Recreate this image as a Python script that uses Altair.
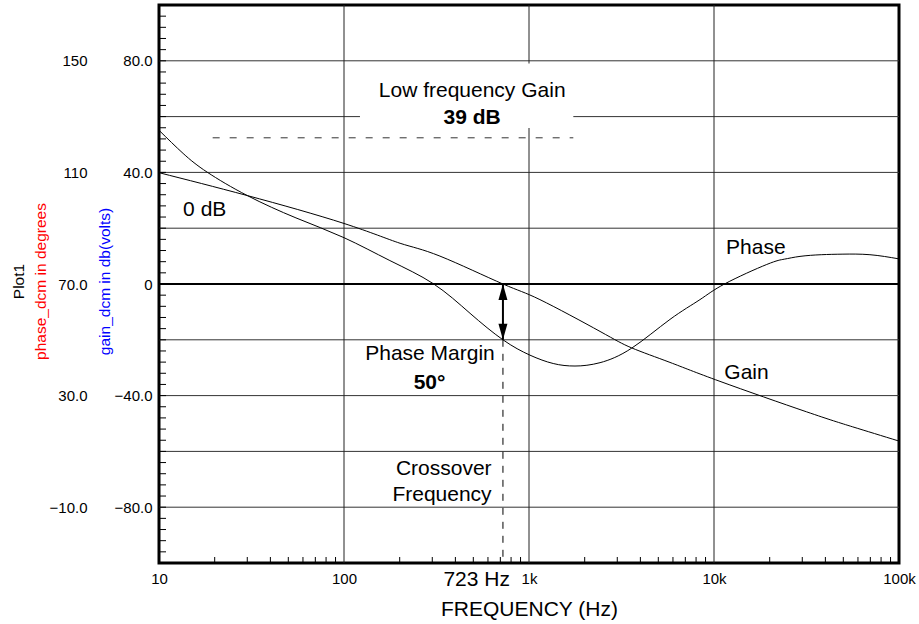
import altair as alt
import pandas as pd

FONT = "Liberation Sans"

# ---------------- data ----------------
gain_freq = [10, 30, 100, 201, 330, 723, 1146, 2421, 3589, 5780, 10775, 31600, 56200, 100000]
gain_db = [39.9, 31.7, 21.7, 14.6, 10.0, 0.0, -5.6, -17.0, -22.9, -28.1, -34.9, -45.8, -51.2,
           -56.3]

phase_freq = [10, 13.5, 18.2, 30, 55, 100, 177, 304, 480, 723, 1012, 1352, 1773, 2421, 3589,
              5780, 8397, 11468, 19280, 24000, 29170, 38000, 49770, 69660, 100000]
phase_deg = [125.1, 116.8, 110.1, 101.7, 93.7, 86.6, 78.4, 70.1, 59.5, 50.0, 44.5, 41.5, 40.6,
             41.8, 47.0, 57.3, 64.4, 70.1, 77.0, 78.9, 79.9, 80.5, 80.7, 80.5, 79.0]

x_tick_values = [10, 100, 1000, 10000, 100000]
x_tick_labels = ["10", "100", "1k", "10k", "100k"]
gain_tick_values = [-80, -40, 0, 40, 80]
gain_tick_labels = ["\u221280.0", "\u221240.0", "0", "40.0", "80.0"]
phase_tick_values = [-10, 30, 70, 110, 150]
phase_tick_labels = ["\u221210.0", "30.0", "70.0", "110", "150"]

gain_grid = [-80, -60, -40, -20, 20, 40, 60, 80]
freq_grid = [100, 1000, 10000]
gain_minor = [v for v in range(-96, 100, 4)]
freq_minor = [m * d for d in [10, 100, 1000, 10000] for m in range(2, 10)]

crossover_freq = 723
margin_bottom_gain = -20

lf_box = {"f1": [122], "f2": [1736], "g1": [79.0], "g2": [55.9]}
lf_dash = {"f1": [19.5], "f2": [1736], "g": [52.4]}

# annotation texts (freq, gain-axis value of baseline)
center_labels = ["Low frequency Gain", "Phase Margin"]
center_freq = [493, 291.7]
center_gain = [67.0, -27.3]
center_bold_labels = ["39 dB", "50\u00b0"]
center_bold_freq = [493, 290]
center_bold_gain = [57.5, -37.8]
left_labels = ["0 dB", "Phase", "Gain"]
left_freq = [13.5, 11614, 11367]
left_gain = [24.3, 10.9, -33.9]
right_labels = ["Crossover", "Frequency"]
right_freq = [628, 628]
right_gain = [-68.3, -77.8]
hz_label = ["723 Hz"]
hz_freq = [789]
hz_gain = [-108.2]

# ---------------- chart ----------------
W, H = 740, 558

xscale = alt.Scale(type="log", domain=[10, 100000], nice=False)
gscale = alt.Scale(domain=[-100, 100], nice=False, zero=False)
pscale = alt.Scale(domain=[-30, 170], nice=False, zero=False)


def label_expr(values, labels):
    expr = "''"
    for v, l in reversed(list(zip(values, labels))):
        expr = f"datum.value == {v} ? '{l}' : ({expr})"
    return expr


x_axis = alt.Axis(
    orient="bottom",
    values=x_tick_values, labelExpr=label_expr(x_tick_values, x_tick_labels),
    ticks=False, tickSize=0, domain=False, grid=False, labelFlush=False,
    labelPadding=8, labelFont=FONT, labelFontSize=15, labelColor="black",
    title="FREQUENCY (Hz)", titleFont=FONT, titleFontSize=21, titleFontWeight="normal",
    titleColor="black", titleX=W / 2, titleY=52, titleAlign="center",
    titleBaseline="alphabetic",
)

gain_axis = alt.Axis(
    values=gain_tick_values, labelExpr=label_expr(gain_tick_values, gain_tick_labels),
    ticks=False, tickSize=0, domain=False, grid=False, orient="left",
    labelPadding=7, labelFont=FONT, labelFontSize=15, labelColor="black",
    title="gain_dcm in db(volts)", titleFont=FONT, titleFontSize=15.5,
    titleFontWeight="normal", titleColor="#0000ff", titleX=-55, titleY=H / 2 - 3,
    titleAlign="center", titleBaseline="middle", titleAngle=270,
)

phase_axis = alt.Axis(
    values=phase_tick_values, labelExpr=label_expr(phase_tick_values, phase_tick_labels),
    ticks=False, tickSize=0, domain=False, grid=False, orient="left", offset=65,
    labelPadding=7, labelFont=FONT, labelFontSize=15, labelColor="black",
    title="phase_dcm in degrees", titleFont=FONT, titleFontSize=15.5,
    titleFontWeight="normal", titleColor="#ff0000", titleX=-54, titleY=H / 2 - 3,
    titleAlign="center", titleBaseline="middle", titleAngle=270,
)

plot1_axis = alt.Axis(
    labels=False, ticks=False, tickSize=0, domain=False, grid=False, orient="left",
    offset=65, title="Plot1", titleFont=FONT, titleFontSize=15.5,
    titleFontWeight="normal", titleColor="black", titleX=-76, titleY=H / 2 - 3,
    titleAlign="center", titleBaseline="middle", titleAngle=270,
)

gain_df = pd.DataFrame({"freq": gain_freq, "gain": gain_db})
phase_df = pd.DataFrame({"freq": phase_freq, "phase": phase_deg})


def X(field="freq"):
    return alt.X(f"{field}:Q", scale=xscale, axis=x_axis)


def Yg(field="gain"):
    return alt.Y(f"{field}:Q", scale=gscale, axis=None)


hgrid = alt.Chart(pd.DataFrame({"gain": gain_grid})).mark_rule(
    color="#333333", strokeWidth=1).encode(y=Yg())
vgrid = alt.Chart(pd.DataFrame({"freq": freq_grid})).mark_rule(
    color="#222222", strokeWidth=1).encode(x=X())
zero_line = alt.Chart(pd.DataFrame({"gain": [0]})).mark_rule(
    color="black", strokeWidth=2).encode(y=Yg())
left_ticks = alt.Chart(pd.DataFrame({"gain": gain_minor})).mark_rule(
    color="black", strokeWidth=1).encode(y=Yg(), x=alt.value(0), x2=alt.value(7))
bottom_ticks = alt.Chart(pd.DataFrame({"freq": freq_minor})).mark_rule(
    color="black", strokeWidth=1).encode(x=X(), y=alt.value(H), y2=alt.value(H - 6))

box = alt.Chart(pd.DataFrame(lf_box)).mark_rect(fill="white").encode(
    x=X("f1"), x2="f2:Q", y=Yg("g1"), y2="g2:Q")
lf_line = alt.Chart(pd.DataFrame(lf_dash)).mark_rule(
    color="#333333", strokeWidth=1, strokeDash=[7, 10]).encode(
    x=X("f1"), x2="f2:Q", y=Yg("g"))

cross_df = pd.DataFrame({"freq": [crossover_freq], "g1": [margin_bottom_gain], "g2": [-100],
                         "g0": [0]})
cross_line = alt.Chart(cross_df).mark_rule(
    color="black", strokeWidth=1, strokeDash=[7, 7]).encode(
    x=X(), y=Yg("g1"), y2="g2:Q")
arrow_shaft = alt.Chart(cross_df).mark_rule(color="black", strokeWidth=2).encode(
    x=X(), y=Yg("g0"), y2="g1:Q")
head_up = alt.Chart(cross_df).mark_point(
    shape="M0,0L-0.28,1L0.28,1Z", size=1024, filled=True, color="black",
    opacity=1, strokeWidth=0).encode(x=X(), y=Yg("g0"))
head_down = alt.Chart(cross_df).mark_point(
    shape="M0,0L-0.28,-1L0.28,-1Z", size=1024, filled=True, color="black",
    opacity=1, strokeWidth=0).encode(x=X(), y=Yg("g1"))

gain_line = alt.Chart(gain_df).mark_line(
    color="black", strokeWidth=1, interpolate="natural").encode(
    x=X(), y=alt.Y("gain:Q", scale=gscale, axis=gain_axis))
phase_line = alt.Chart(phase_df).mark_line(
    color="black", strokeWidth=1, interpolate="natural").encode(
    x=X(), y=alt.Y("phase:Q", scale=pscale, axis=phase_axis))
plot1_layer = alt.Chart(phase_df).mark_line(strokeOpacity=0).encode(
    x=X(), y=alt.Y("phase:Q", scale=pscale, axis=plot1_axis))


def text_layer(labels, freqs, gains, align, bold=False, size=21):
    df = pd.DataFrame({"freq": freqs, "gain": gains, "label": labels})
    return alt.Chart(df).mark_text(
        align=align, baseline="alphabetic", font=FONT, fontSize=size,
        fontWeight="bold" if bold else "normal", color="black").encode(
        x=X(), y=Yg(), text="label:N")


texts = [
    text_layer(center_labels, center_freq, center_gain, "center"),
    text_layer(center_bold_labels, center_bold_freq, center_bold_gain, "center", bold=True),
    text_layer(left_labels, left_freq, left_gain, "left"),
    text_layer(right_labels, right_freq, right_gain, "right"),
    text_layer(hz_label, hz_freq, hz_gain, "right"),
]

chart = alt.layer(
    hgrid, vgrid, zero_line, left_ticks, bottom_ticks, box, lf_line,
    cross_line, arrow_shaft, head_up, head_down,
    gain_line, phase_line, plot1_layer, *texts,
).resolve_scale(y="independent").properties(
    width=W, height=H,
    autosize=alt.AutoSizeParams(type="none"),
    padding={"left": 159, "top": 5, "right": 20, "bottom": 61},
    background="white",
).configure_view(stroke="black", strokeWidth=3)

chart.save("out.html", embed_options={"renderer": "svg", "actions": False})
